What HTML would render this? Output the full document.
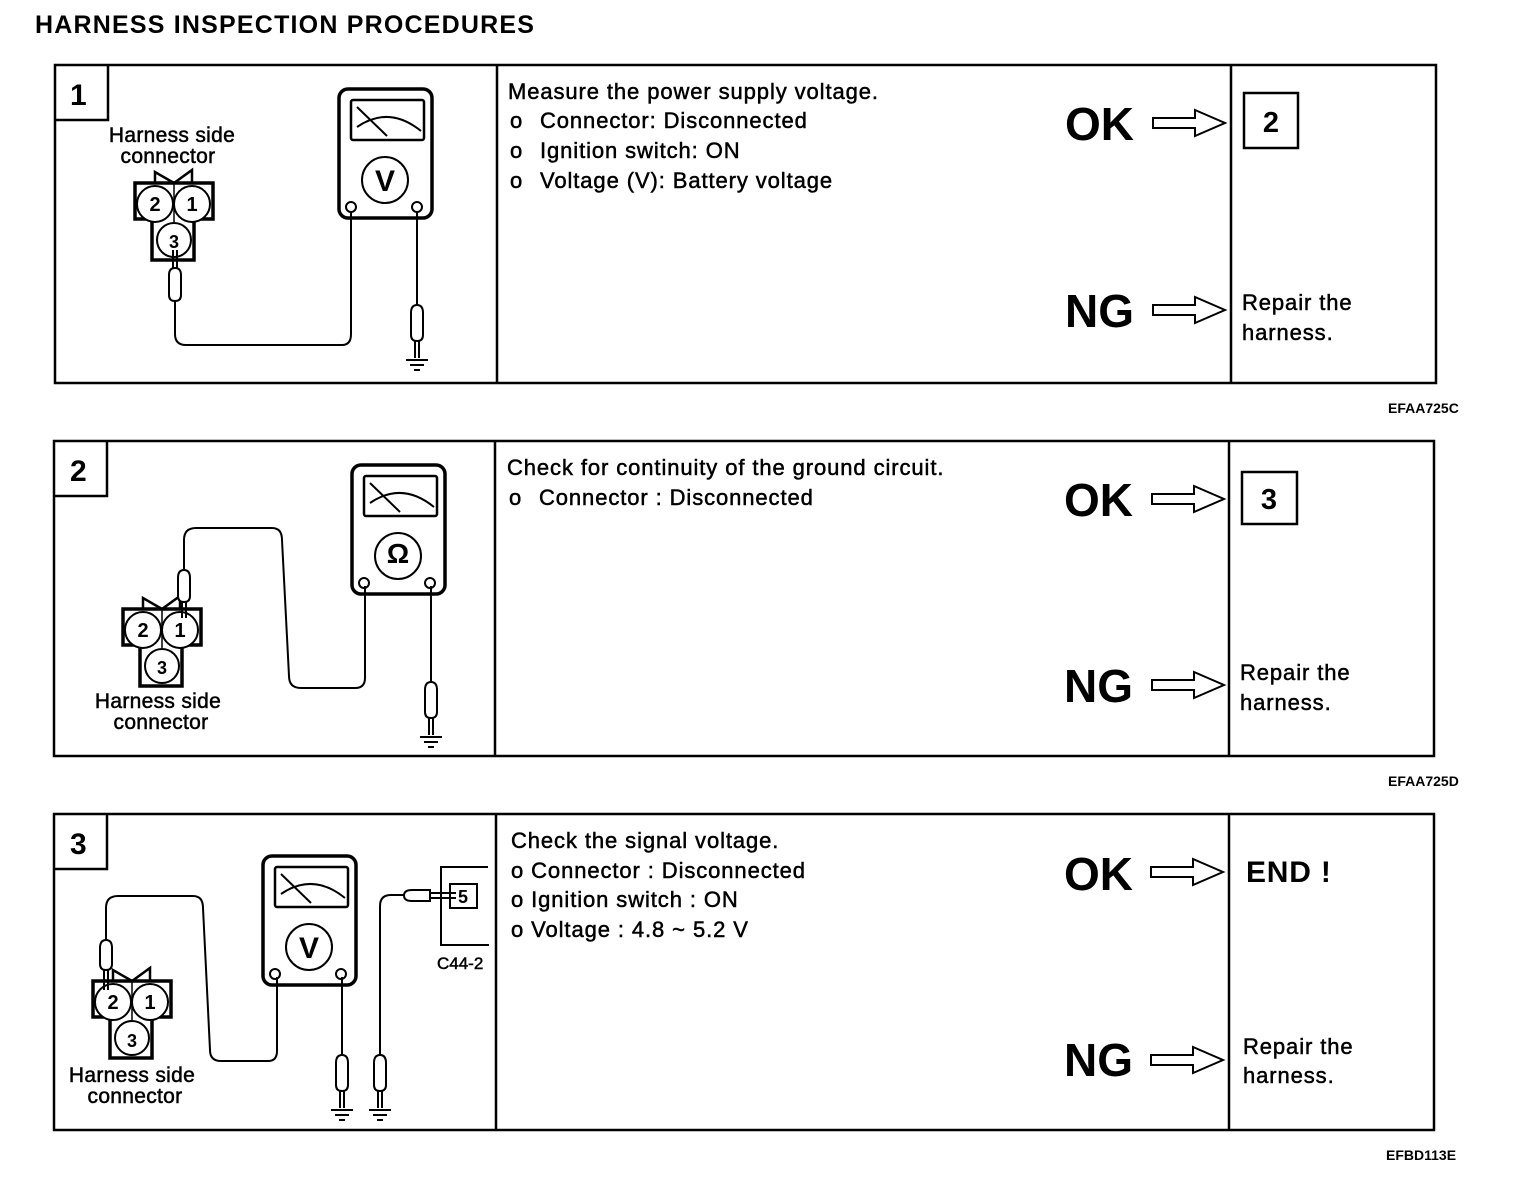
<!DOCTYPE html>
<html><head><meta charset="utf-8"><style>
html,body{margin:0;padding:0;background:#fff}
svg{display:block}
text{font-family:"Liberation Sans",Arial,sans-serif;fill:#000}
.b{stroke:#000;stroke-width:0.5}
</style></head><body>
<svg width="1520" height="1180" viewBox="0 0 1520 1180" xmlns="http://www.w3.org/2000/svg">
<defs>
<g id="meter" fill="none" stroke="#000">
 <rect x="0" y="0" width="93" height="129" rx="9" stroke-width="3.5"/>
 <rect x="12" y="11" width="73" height="40" rx="2" stroke-width="2.5"/>
 <line x1="18" y1="18" x2="48" y2="47" stroke-width="2"/>
 <path d="M18 38 Q50 16 82 42" stroke-width="2"/>
 <circle cx="46" cy="91" r="23" stroke-width="2"/>
 <circle cx="12" cy="118" r="5" stroke-width="2"/>
 <circle cx="78" cy="118" r="5" stroke-width="2"/>
</g>
<g id="conn" stroke="#000" fill="none">
 <path d="M135 183 H213 V219 H194 V260 H152 V219 H135 Z" stroke-width="3.5"/>
 <polyline points="155,183 155,172 174,183 192,170 192,183" stroke-width="2.5"/>
 <line x1="174" y1="183" x2="174" y2="222" stroke-width="1.5"/>
 <circle cx="155" cy="204" r="18" fill="#fff" stroke-width="2"/>
 <circle cx="192" cy="204" r="18" fill="#fff" stroke-width="2"/>
 <circle cx="174" cy="240" r="17" fill="#fff" stroke-width="2"/>
</g>
<g id="probe" stroke="#000" fill="#fff" stroke-width="2">
 <path d="M-6 0 Q-6 -8 0 -8 Q6 -8 6 0 V22 Q6 28 0 28 Q-6 28 -6 22 Z"/>
 <line x1="-2" y1="28" x2="-2" y2="45"/><line x1="2" y1="28" x2="2" y2="45"/>
</g>
<g id="gnd" stroke="#000" stroke-width="2">
 <line x1="-11" y1="0" x2="11" y2="0"/><line x1="-7" y1="5" x2="7" y2="5"/><line x1="-3" y1="10" x2="3" y2="10"/>
</g>
<g id="arrow" fill="#fff" stroke="#000" stroke-width="2">
 <path d="M0 -5 H42 V-13 L72 0 L42 13 V5 H0 Z"/>
</g>
</defs>

<text x="35" y="33" font-size="25" font-weight="bold" letter-spacing="1.2">HARNESS INSPECTION PROCEDURES</text>

<g fill="none" stroke="#000" stroke-width="2.5">
 <rect x="55" y="65" width="1381" height="318"/>
 <line x1="497" y1="65" x2="497" y2="383"/><line x1="1231" y1="65" x2="1231" y2="383"/>
 <polyline points="55,120 108,120 108,65"/>
 <rect x="54" y="441" width="1380" height="315"/>
 <line x1="495" y1="441" x2="495" y2="756"/><line x1="1229" y1="441" x2="1229" y2="756"/>
 <polyline points="54,496 107,496 107,441"/>
 <rect x="54" y="814" width="1380" height="316"/>
 <line x1="496" y1="814" x2="496" y2="1130"/><line x1="1229" y1="814" x2="1229" y2="1130"/>
 <polyline points="54,869 107,869 107,814"/>
</g>
<text x="70" y="105" font-size="30" font-weight="bold">1</text>
<text x="70" y="481" font-size="30" font-weight="bold">2</text>
<text x="70" y="854" font-size="30" font-weight="bold">3</text>

<!-- Panel 1 diagram -->
<g class="b">
<text x="172" y="142" font-size="21" letter-spacing="0.3" text-anchor="middle">Harness side</text>
<text x="168" y="163" font-size="21" letter-spacing="0.3" text-anchor="middle">connector</text>
</g>
<use href="#conn"/>
<g font-weight="bold">
<text x="155" y="211" font-size="20" text-anchor="middle">2</text>
<text x="192" y="211" font-size="20" text-anchor="middle">1</text>
<text x="174" y="248" font-size="18" text-anchor="middle">3</text>
</g>
<use href="#meter" x="339" y="89"/>
<text x="385" y="191" font-size="30" font-weight="bold" text-anchor="middle">V</text>
<g fill="none" stroke="#000" stroke-width="2">
 <line x1="173" y1="250" x2="173" y2="275"/><line x1="177" y1="250" x2="177" y2="275"/>
 <path d="M175 300 V334 Q175 345 186 345 H342 Q351 345 351 334 V212"/>
 <line x1="417" y1="212" x2="417" y2="305"/>
</g>
<path d="M169 275 Q169 268 175 268 Q181 268 181 275 V295 Q181 301 175 301 Q169 301 169 295 Z" fill="#fff" stroke="#000" stroke-width="2"/>
<use href="#probe" x="417" y="313"/>
<use href="#gnd" x="417" y="360"/>

<!-- Panel 2 diagram -->
<use href="#conn" transform="translate(-12,426)"/>
<g font-weight="bold">
<text x="143" y="637" font-size="20" text-anchor="middle">2</text>
<text x="180" y="637" font-size="20" text-anchor="middle">1</text>
<text x="162" y="674" font-size="18" text-anchor="middle">3</text>
</g>
<g class="b">
<text x="158" y="708" font-size="21" letter-spacing="0.3" text-anchor="middle">Harness side</text>
<text x="161" y="729" font-size="21" letter-spacing="0.3" text-anchor="middle">connector</text>
</g>
<use href="#meter" x="352" y="465"/>
<text x="398" y="563" font-size="28" font-weight="bold" text-anchor="middle">Ω</text>
<g fill="none" stroke="#000" stroke-width="2">
 <line x1="182" y1="600" x2="182" y2="618"/><line x1="186" y1="600" x2="186" y2="618"/>
 <path d="M184 570 V540 Q184 528 196 528 H272 Q282 528 282 540 L289 676 Q289 688 301 688 H355 Q365 688 365 678 V586"/>
 <line x1="431" y1="586" x2="431" y2="682"/>
</g>
<path d="M178 578 Q178 570 184 570 Q190 570 190 578 V596 Q190 602 184 602 Q178 602 178 596 Z" fill="#fff" stroke="#000" stroke-width="2"/>
<use href="#probe" x="431" y="690"/>
<use href="#gnd" x="431" y="737"/>

<!-- Panel 3 diagram -->
<use href="#conn" transform="translate(-42,798)"/>
<g font-weight="bold">
<text x="113" y="1009" font-size="20" text-anchor="middle">2</text>
<text x="150" y="1009" font-size="20" text-anchor="middle">1</text>
<text x="132" y="1047" font-size="18" text-anchor="middle">3</text>
</g>
<g class="b">
<text x="132" y="1082" font-size="21" letter-spacing="0.3" text-anchor="middle">Harness side</text>
<text x="135" y="1103" font-size="21" letter-spacing="0.3" text-anchor="middle">connector</text>
</g>
<use href="#meter" x="263" y="856"/>
<text x="309" y="958" font-size="30" font-weight="bold" text-anchor="middle">V</text>
<g fill="none" stroke="#000" stroke-width="2">
 <line x1="104" y1="968" x2="104" y2="990"/><line x1="108" y1="968" x2="108" y2="990"/>
 <path d="M106 940 V908 Q106 896 118 896 H193 Q203 896 203 908 L210 1050 Q210 1061 221 1061 H268 Q277 1061 277 1051 V977"/>
 <line x1="342" y1="977" x2="342" y2="1055"/>
 <path d="M380 1055 V906 Q380 895 391 895 H405"/>
 <polyline points="488,867 441,867 441,945 489,945"/>
 <line x1="430" y1="893" x2="456" y2="893"/><line x1="430" y1="898" x2="456" y2="898"/>
</g>
<path d="M100 948 Q100 940 106 940 Q112 940 112 948 V964 Q112 970 106 970 Q100 970 100 964 Z" fill="#fff" stroke="#000" stroke-width="2"/>
<path d="M412 890 H430 V901 H412 Q404 901 404 895.5 Q404 890 412 890 Z" fill="#fff" stroke="#000" stroke-width="2"/>
<rect x="450" y="884" width="27" height="24" fill="none" stroke="#000" stroke-width="2"/>
<text x="463" y="903" font-size="18" font-weight="bold" text-anchor="middle">5</text>
<text x="437" y="969" font-size="17" class="b">C44-2</text>
<use href="#probe" x="342" y="1063"/>
<use href="#gnd" x="342" y="1110"/>
<use href="#probe" x="380" y="1063"/>
<use href="#gnd" x="380" y="1110"/>

<!-- Panel text -->
<g font-size="22" letter-spacing="0.9" class="b">
 <text x="508" y="99">Measure the power supply voltage.</text>
 <text x="510" y="128">o</text><text x="540" y="128">Connector: Disconnected</text>
 <text x="510" y="158">o</text><text x="540" y="158">Ignition switch: ON</text>
 <text x="510" y="188">o</text><text x="540" y="188">Voltage (V): Battery voltage</text>
 <text x="507" y="475">Check for continuity of the ground circuit.</text>
 <text x="509" y="505">o</text><text x="539" y="505">Connector : Disconnected</text>
 <text x="511" y="848">Check the signal voltage.</text>
 <text x="511" y="878">o Connector : Disconnected</text>
 <text x="511" y="907">o Ignition switch : ON</text>
 <text x="511" y="937">o Voltage : 4.8 ~ 5.2 V</text>
 <text x="1242" y="310">Repair the</text><text x="1242" y="340">harness.</text>
 <text x="1240" y="680">Repair the</text><text x="1240" y="710">harness.</text>
 <text x="1243" y="1054">Repair the</text><text x="1243" y="1083">harness.</text>
</g>
<g font-size="46" font-weight="bold">
 <text x="1065" y="140">OK</text><text x="1065" y="327">NG</text>
 <text x="1064" y="516">OK</text><text x="1064" y="702">NG</text>
 <text x="1064" y="890">OK</text><text x="1064" y="1076">NG</text>
</g>
<use href="#arrow" x="1153" y="123"/><use href="#arrow" x="1153" y="310"/>
<use href="#arrow" x="1152" y="499"/><use href="#arrow" x="1152" y="685"/>
<use href="#arrow" x="1151" y="872"/><use href="#arrow" x="1151" y="1060"/>
<rect x="1244" y="93" width="54" height="55" fill="none" stroke="#000" stroke-width="2.5"/>
<text x="1271" y="132" font-size="29" font-weight="bold" text-anchor="middle">2</text>
<rect x="1242" y="472" width="55" height="52" fill="none" stroke="#000" stroke-width="2.5"/>
<text x="1269" y="509" font-size="29" font-weight="bold" text-anchor="middle">3</text>
<text x="1246" y="882" font-size="30" font-weight="bold" letter-spacing="0.8">END !</text>

<g font-size="14" font-weight="bold">
 <text x="1388" y="413">EFAA725C</text>
 <text x="1388" y="786">EFAA725D</text>
 <text x="1386" y="1160">EFBD113E</text>
</g>
</svg>
</body></html>
